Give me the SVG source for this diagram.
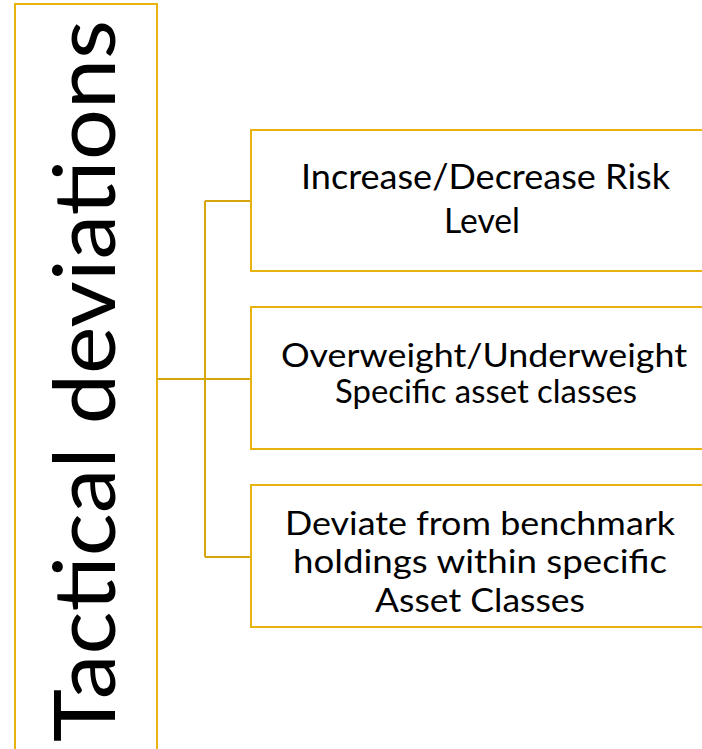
<svg xmlns="http://www.w3.org/2000/svg" width="702" height="749" viewBox="0 0 702 749">
<style>
.box{fill:#FFFFFF;stroke:#E8B30E;stroke-width:2}
.conn{fill:none;stroke:#D6A50E;stroke-width:2}
.t{font-family:Lato,"Open Sans","Liberation Sans",sans-serif;font-size:34px;fill:#000000;text-anchor:middle}
.s{font-size:32px}
.big{font-family:Lato,"Open Sans","Liberation Sans",sans-serif;font-size:86px;fill:#000000}
</style>
<rect width="702" height="749" fill="#FFFFFF"/>
<g id="main">
<rect class="box" x="15" y="4" width="142" height="760"/>
<text class="big" transform="translate(115,742) rotate(-90)" x="0" y="0" textLength="722" lengthAdjust="spacingAndGlyphs">Tactical deviations</text>
</g>
<g id="connectors">
<path class="conn" d="M157 379 H205 M205 201 V557 M205 201 H251 M205 379 H251 M205 557 H251"/>
</g>
<g id="node1">
<rect class="box" x="251" y="130" width="480" height="141"/>
<text class="t" x="485.5" y="189" textLength="369" lengthAdjust="spacingAndGlyphs">Increase/Decrease Risk</text>
<text class="t" x="482" y="233" textLength="76" lengthAdjust="spacingAndGlyphs">Level</text>
</g>
<g id="node2">
<rect class="box" x="251" y="307" width="480" height="142"/>
<text class="t s" x="484" y="367" textLength="406" lengthAdjust="spacingAndGlyphs">Overweight/Underweight</text>
<text class="t s" x="486" y="403" textLength="302" lengthAdjust="spacingAndGlyphs">Specific asset classes</text>
</g>
<g id="node3">
<rect class="box" x="251" y="485" width="480" height="142"/>
<text class="t s" x="480" y="535" textLength="390" lengthAdjust="spacingAndGlyphs">Deviate from benchmark</text>
<text class="t s" x="480" y="573" textLength="374" lengthAdjust="spacingAndGlyphs">holdings within specific</text>
<text class="t s" x="480" y="612" textLength="210" lengthAdjust="spacingAndGlyphs">Asset Classes</text>
</g>
</svg>
